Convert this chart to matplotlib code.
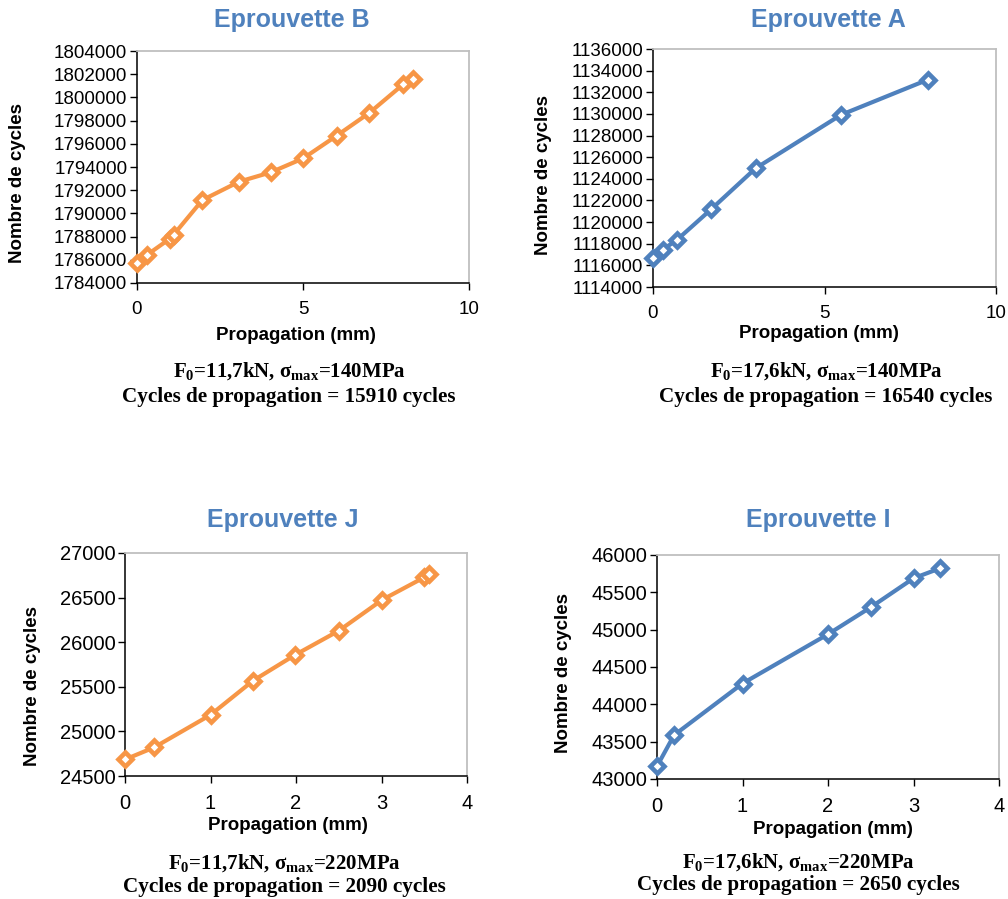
import matplotlib.pyplot as plt
from matplotlib.ticker import FuncFormatter

# Eprouvette B  (F0=11,7kN, 140MPa)
b_prop = [0, 0.3, 0.98, 1.1, 1.97, 3.08, 4.03, 5.01, 6.01, 7.0, 8.02, 8.3]
b_cycles = [1785750, 1786420, 1787800, 1788150, 1791150, 1792740, 1793540,
            1794750, 1796690, 1798670, 1801130, 1801590]

# Eprouvette A  (F0=17,6kN, 140MPa)
a_prop = [0, 0.29, 0.71, 1.69, 2.99, 5.48, 8.01]
a_cycles = [1116690, 1117460, 1118390, 1121170, 1124970, 1129910, 1133160]

# Eprouvette J  (F0=11,7kN, 220MPa)
j_prop = [0, 0.34, 1.0, 1.5, 1.99, 2.5, 3.01, 3.5, 3.56]
j_cycles = [24685, 24820, 25185, 25570, 25858, 26128, 26476, 26727, 26768]

# Eprouvette I  (F0=17,6kN, 220MPa)
i_prop = [0, 0.2, 1.0, 2.0, 2.5, 3.0, 3.31]
i_cycles = [43170, 43588, 44279, 44939, 45300, 45688, 45822]

titles = ["Eprouvette B", "Eprouvette A", "Eprouvette J", "Eprouvette I"]
captions = [
    ("F$_0$=11,7kN, σ$_{max}$=140MPa", "Cycles de propagation = 15910 cycles"),
    ("F$_0$=17,6kN, σ$_{max}$=140MPa", "Cycles de propagation = 16540 cycles"),
    ("F$_0$=11,7kN, σ$_{max}$=220MPa", "Cycles de propagation = 2090 cycles"),
    ("F$_0$=17,6kN, σ$_{max}$=220MPa", "Cycles de propagation = 2650 cycles"),
]

ORANGE = "#F79646"
BLUE = "#4F81BD"

plt.rcParams["font.family"] = "Liberation Sans"
plt.rcParams["mathtext.fontset"] = "custom"
plt.rcParams["mathtext.rm"] = "Liberation Serif:bold"
plt.rcParams["mathtext.it"] = "Liberation Serif:bold"
plt.rcParams["mathtext.bf"] = "Liberation Serif:bold"

W, H = 1008, 899
fig = plt.figure(figsize=(W / 100, H / 100), dpi=100)


def fx(px):
    return px / W


def fy(py):
    return 1 - py / H


# layout in pixels: axes box (left, top, right, bottom), title, xlabel, ylabel, caption centres
panels = [
    dict(x=b_prop, y=b_cycles, color=ORANGE, box=(137, 51, 469, 283),
         xlim=(0, 10), xstep=5, ylim=(1784000, 1804000), ystep=2000, fs=13.5,
         title=(292, 20), xlab=(296, 335), ylab=(18, 183), cap=(289, 371, 397)),
    dict(x=a_prop, y=a_cycles, color=BLUE, box=(653, 49, 996, 287),
         xlim=(0, 10), xstep=5, ylim=(1114000, 1136000), ystep=2000, fs=13.5,
         title=(828, 20), xlab=(819, 334), ylab=(543, 175), cap=(826, 371, 397)),
    dict(x=j_prop, y=j_cycles, color=ORANGE, box=(125, 553, 467, 776),
         xlim=(0, 4), xstep=1, ylim=(24500, 27000), ystep=500, fs=14.5,
         title=(283, 520), xlab=(288, 825), ylab=(33, 686), cap=(284, 863, 887)),
    dict(x=i_prop, y=i_cycles, color=BLUE, box=(657, 555, 999, 779),
         xlim=(0, 4), xstep=1, ylim=(43000, 46000), ystep=500, fs=14.5,
         title=(818, 520), xlab=(833, 830), ylab=(563, 673), cap=(798, 862, 885)),
]

for p, title, cap in zip(panels, titles, captions):
    l, t, r, b = p["box"]
    ax = fig.add_axes([fx(l), fy(b), fx(r) - fx(l), fy(t) - fy(b)])
    ax.plot(p["x"], p["y"], color=p["color"], linewidth=3, marker="D",
            markersize=7.5, markerfacecolor="white", markeredgecolor=p["color"],
            markeredgewidth=3.3, clip_on=False, zorder=3)

    ax.set_xlim(*p["xlim"])
    ax.set_ylim(*p["ylim"])
    ax.set_xticks(range(p["xlim"][0], p["xlim"][1] + 1, p["xstep"]))
    ax.set_yticks(range(p["ylim"][0], p["ylim"][1] + 1, p["ystep"]))
    ax.yaxis.set_major_formatter(FuncFormatter(lambda v, pos: f"{v:.0f}"))
    ax.tick_params(direction="out", length=5, width=1, labelsize=p["fs"],
                   colors="black")
    ax.tick_params(axis="x", pad=8)
    ax.tick_params(axis="y", pad=2)

    for side in ["top", "right"]:
        ax.spines[side].set_color("#BFBFBF")
        ax.spines[side].set_linewidth(1.3)
    for side in ["left", "bottom"]:
        ax.spines[side].set_color("black")
        ax.spines[side].set_linewidth(1.1)

    ax.set_xlabel("Propagation (mm)", fontsize=13.5, fontweight="bold")
    ax.set_ylabel("Nombre de cycles", fontsize=13.5, fontweight="bold")
    ax.xaxis.set_label_coords(fx(p["xlab"][0]), fy(p["xlab"][1]), transform=fig.transFigure)
    ax.yaxis.set_label_coords(fx(p["ylab"][0]), fy(p["ylab"][1]), transform=fig.transFigure)
    ax.xaxis.label.set_va("center")
    ax.yaxis.label.set_va("center")
    ax.yaxis.label.set_ha("center")

    fig.text(fx(p["title"][0]), fy(p["title"][1]), title, fontsize=18,
             fontweight="bold", color=BLUE, ha="center", va="center")

    cx, cy1, cy2 = p["cap"]
    fig.text(fx(cx), fy(cy1), cap[0], fontsize=15, fontweight="bold",
             family="Liberation Serif", ha="center", va="center")
    fig.text(fx(cx), fy(cy2), cap[1], fontsize=15.2, fontweight="bold",
             family="Liberation Serif", ha="center", va="center")

fig.savefig("out.png", dpi=100)
